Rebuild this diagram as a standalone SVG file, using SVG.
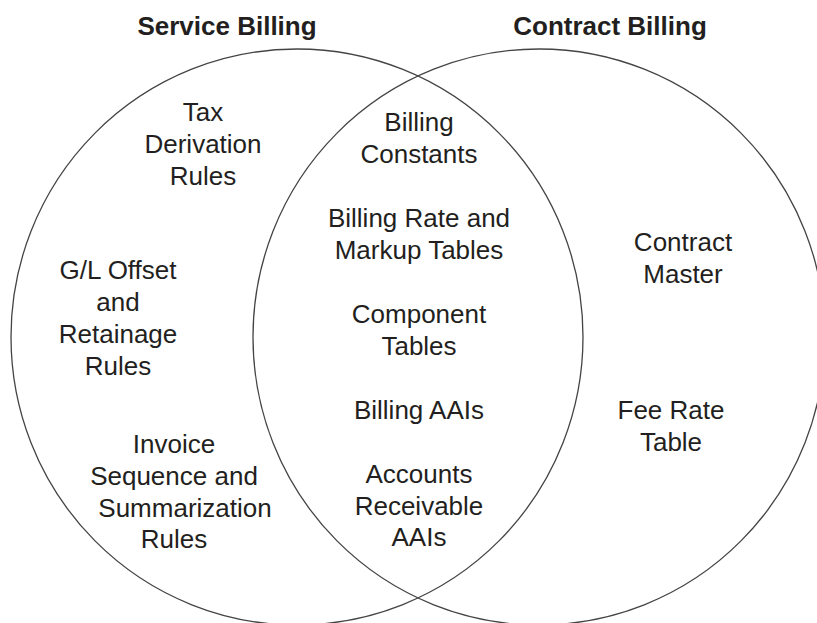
<svg xmlns="http://www.w3.org/2000/svg" width="817" height="623" viewBox="0 0 817 623">
<style>
.set{fill:none;stroke:#444;stroke-width:1.3}
text{font-family:"Liberation Sans",Arial,Helvetica,sans-serif;font-size:26px;fill:#231f20;text-anchor:middle}
.title{font-weight:bold}
</style>
<rect width="817" height="623" fill="#fff"/>
<g id="sets">
<ellipse id="service-circle" class="set" cx="297" cy="337" rx="286" ry="288"/>
<ellipse id="contract-circle" class="set" cx="539" cy="337" rx="286" ry="288"/>
</g>
<g id="title-service"><text class="title" x="227" y="35">Service Billing</text></g>
<g id="title-contract"><text class="title" x="610" y="35">Contract Billing</text></g>
<g id="tax"><text x="203" y="121">Tax</text><text x="203" y="153">Derivation</text><text x="203" y="185">Rules</text></g>
<g id="gl"><text x="118" y="279">G/L Offset</text><text x="118" y="311">and</text><text x="118" y="343">Retainage</text><text x="118" y="375">Rules</text></g>
<g id="invoice"><text x="174" y="453">Invoice</text><text x="174" y="485">Sequence and</text><text x="185" y="517">Summarization</text><text x="174" y="548">Rules</text></g>
<g id="constants"><text x="419" y="131">Billing</text><text x="419" y="163">Constants</text></g>
<g id="rate"><text x="419" y="227">Billing Rate and</text><text x="419" y="259">Markup Tables</text></g>
<g id="component"><text x="419" y="323">Component</text><text x="419" y="355">Tables</text></g>
<g id="billing-aais"><text x="419" y="419">Billing AAIs</text></g>
<g id="ar-aais"><text x="419" y="483">Accounts</text><text x="419" y="515">Receivable</text><text x="419" y="546">AAIs</text></g>
<g id="contract-master"><text x="683" y="251">Contract</text><text x="683" y="283">Master</text></g>
<g id="fee-rate"><text x="671" y="419">Fee Rate</text><text x="671" y="451">Table</text></g>
</svg>
